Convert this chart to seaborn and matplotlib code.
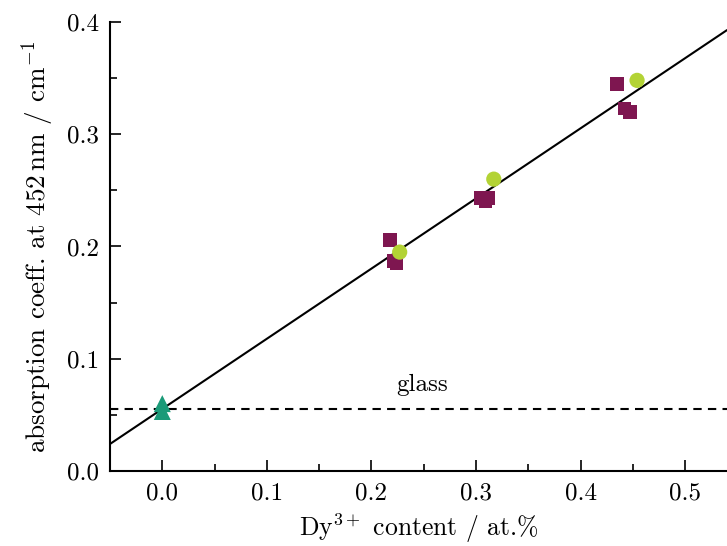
import matplotlib
matplotlib.use("Agg")
import matplotlib.pyplot as plt
import seaborn as sns
import pandas as pd
from matplotlib.ticker import MultipleLocator, FormatStrFormatter

# data
square_x = [0.218, 0.221, 0.224, 0.305, 0.312, 0.309, 0.435, 0.442, 0.447]
square_y = [0.206, 0.187, 0.185, 0.243, 0.243, 0.240, 0.345, 0.323, 0.320]
circle_x = [0.227, 0.317, 0.454]
circle_y = [0.195, 0.260, 0.348]
tri_x = [0.0, 0.0]
tri_y = [0.060, 0.053]
fit_intercept = 0.0553
fit_slope = 0.625
glass_level = 0.055

sns.set_theme(style="ticks")
plt.rcParams["font.family"] = ["cmr10", "DejaVu Serif"]
plt.rcParams["mathtext.fontset"] = "cm"
plt.rcParams["axes.formatter.use_mathtext"] = True
plt.rcParams["axes.unicode_minus"] = False
for k in ["text.color", "axes.labelcolor", "xtick.color", "ytick.color", "axes.edgecolor"]:
    plt.rcParams[k] = "black"

fig = plt.figure(figsize=(7.27, 5.46), dpi=100)
ax = fig.add_axes([0.1513, 0.1374, 0.8487, 0.8223])

ax.axline((0, fit_intercept), slope=fit_slope, color="black", lw=1.5, zorder=1)
ax.axhline(glass_level, color="black", lw=1.5, ls=(0, (4, 3)), zorder=1)

sq = pd.DataFrame({"x": square_x, "y": square_y})
ci = pd.DataFrame({"x": circle_x, "y": circle_y})
tr = pd.DataFrame({"x": tri_x, "y": tri_y})
sns.scatterplot(data=sq, x="x", y="y", marker="s", s=95, color="#7E1650",
                edgecolor="none", ax=ax, zorder=2)
sns.scatterplot(data=ci, x="x", y="y", marker="o", s=120, color="#B3D335",
                edgecolor="none", ax=ax, zorder=3)
sns.scatterplot(data=tr, x="x", y="y", marker="^", s=150, color="#1A9A78",
                edgecolor="none", ax=ax, zorder=3)

ax.text(0.248, 0.0765, "glass", ha="center", va="center", fontsize=18)

ax.set_xlim(-0.05, 0.54)
ax.set_ylim(0, 0.4)
ax.xaxis.set_major_locator(MultipleLocator(0.1))
ax.xaxis.set_minor_locator(MultipleLocator(0.05))
ax.yaxis.set_major_locator(MultipleLocator(0.1))
ax.yaxis.set_minor_locator(MultipleLocator(0.05))
ax.xaxis.set_major_formatter(FormatStrFormatter("%.1f"))
ax.yaxis.set_major_formatter(FormatStrFormatter("%.1f"))

ax.tick_params(which="major", direction="in", length=8, width=1.2, labelsize=18, pad=8)
ax.tick_params(which="minor", direction="in", length=5, width=1.2)
for s in ["top", "right"]:
    ax.spines[s].set_visible(False)
for s in ["left", "bottom"]:
    ax.spines[s].set_linewidth(1.5)

ax.set_xlabel(r"Dy$^{3+}$ content / at.%", fontsize=18.5, labelpad=5)
ax.set_ylabel(r"absorption coeff. at 452$\,$nm / cm$^{-1}$", fontsize=19.5, labelpad=8)

fig.savefig("out.png", dpi=100)
